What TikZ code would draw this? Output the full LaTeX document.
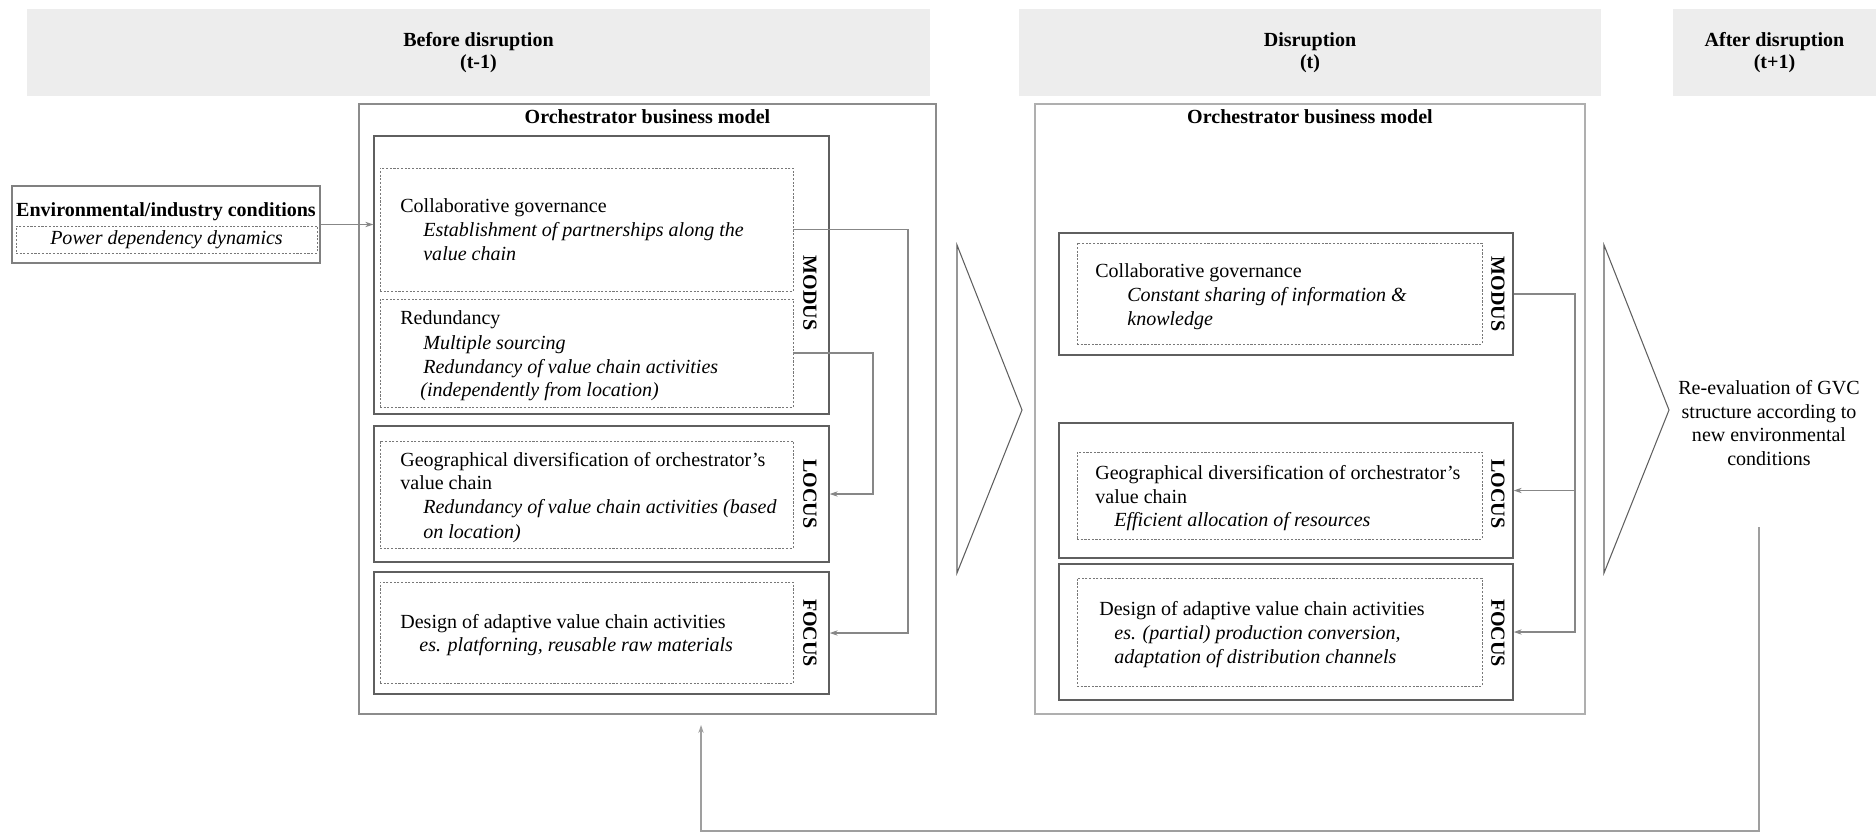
\documentclass[tikz,border=0pt]{standalone}
\usepackage{fontspec}
\setmainfont{Liberation Serif}
\usetikzlibrary{arrows.meta,fit}
\definecolor{bandgray}{RGB}{237,237,237}
\definecolor{framegray}{RGB}{140,140,140}
\definecolor{boxgray}{RGB}{95,95,95}
\definecolor{dotgray}{RGB}{120,120,120}
\definecolor{linkgray}{RGB}{135,135,135}
\newcommand{\gvcsize}{\fontsize{11.4}{13.6}\selectfont}

\begin{document}
\begin{tikzpicture}[x=0.02cm,y=-0.02cm,inner sep=0pt,font=\gvcsize,
  band/.style={fill=bandgray},
  head/.style={align=center,font=\fontsize{11.4}{12.8}\selectfont\bfseries},
  frame/.style={draw=framegray,line width=0.6pt},
  pillar/.style={draw=boxgray,line width=0.8pt},
  dbox/.style={draw=dotgray,line width=0.5pt,dash pattern=on 1.2pt off 0.9pt},
  tag/.style={font=\gvcsize\bfseries,rotate=-90},
  link/.style={draw=linkgray,line width=0.6pt,-{Stealth[length=4.5pt,width=3pt]}},
  txt/.style={anchor=base west}]

\useasboundingbox (0,0) rectangle (1876,833);

\node[band,fit={(27,9) (930,96)}] (before) {};
\node[band,fit={(1019,9) (1601,96)}] (during) {};
\node[band,fit={(1673,9) (1876,96)}] (after) {};
\node[head] (before-txt) at (before.center) {Before disruption\\(t-1)};
\node[head] (during-txt) at (during.center) {Disruption\\(t)};
\node[head] (after-txt) at (after.center) {After disruption\\(t+1)};

\node[frame,fit={(359,104) (936,714)}] (orchL) {};
\node[frame,draw=framegray!70,fit={(1035,104) (1585,714)}] (orchM) {};
\node[below=0.12cm,font=\gvcsize\bfseries] (titleL) at (orchL.north) {Orchestrator business model};
\node[below=0.12cm,font=\gvcsize\bfseries] (titleM) at (orchM.north) {Orchestrator business model};

\node[frame,draw=gray,fit={(12,186) (320,263)}] (env) {};
\node[font=\gvcsize\bfseries] (envtitle) at (166,212) {Environmental/industry conditions};
\node[dbox,fit={(16,226) (317,253)}] (envdyn) {};
\node[font=\gvcsize\itshape] (envdyn-txt) at (envdyn.center) {Power dependency dynamics};

\foreach \n/\ya/\yb/\lab/\ly in {modL/136/414/MODUS/293,locL/426/562/LOCUS/494,fcsL/572/694/FOCUS/633}
{
  \node[pillar,fit={(374,\ya) (829,\yb)}] (\n) {};
  \node[tag] (\n-tag) at (810,\ly) {\lab};
}
\foreach \n/\ya/\yb/\lab/\ly in {modM/233/355/MODUS/294,locM/423/558/LOCUS/494,fcsM/564/700/FOCUS/633}
{
  \node[pillar,fit={(1059,\ya) (1513,\yb)}] (\n) {};
  \node[tag] (\n-tag) at (1498,\ly) {\lab};
}

\foreach \n/\ya/\yb in {cgov/168/291,redu/299/407,geoL/441/548,desL/582/683}
  \node[dbox,fit={(380,\ya) (793,\yb)}] (\n) {};
\foreach \n/\ya/\yb in {cgovM/243/344,geoM/452/539,desM/578/686}
  \node[dbox,fit={(1077,\ya) (1482,\yb)}] (\n) {};

\foreach \x/\y/\t [count=\i] in {
  400/212/Collaborative governance,
  423/236/\itshape Establishment of partnerships along the,
  423/260/\itshape value chain,
  400/324/Redundancy,
  423/349/\itshape Multiple sourcing,
  423/373/\itshape Redundancy of value chain activities,
  420/396/\itshape (independently from location),
  400/466/Geographical diversification of orchestrator’s,
  400/489/value chain,
  423/513/\itshape Redundancy of value chain activities (based,
  423/538/\itshape on location),
  400/628/Design of adaptive value chain activities,
  419/651/{\itshape es. platforning, reusable raw materials}}
  \node[txt] (l\i) at (\x,\y) {\t};

\foreach \x/\y/\t [count=\i] in {
  1095/277/Collaborative governance,
  1127/301/\itshape Constant sharing of information \&,
  1127/325/\itshape knowledge,
  1095/479/Geographical diversification of orchestrator’s,
  1095/503/value chain,
  1114/526/\itshape Efficient allocation of resources,
  1099/615/Design of adaptive value chain activities,
  1114/639/{\itshape es. (partial) production conversion,},
  1114/663/\itshape adaptation of distribution channels}
  \node[txt] (m\i) at (\x,\y) {\t};

\node[align=center] (reval) at (1769,423) {Re-evaluation of GVC\\structure according to\\new environmental\\conditions};

\foreach \x in {957,1604}
  \draw[draw=boxgray,line width=0.6pt] (\x,245) -- ++(65,165) -- ++(-65,163) -- cycle;

\coordinate (trunkA) at (908,0);
\coordinate (trunkB) at (873,0);
\coordinate (trunkC) at (1575,0);
\coordinate (fbtop) at (1759,527);
\coordinate (fbbase) at (701,831);
\coordinate (fbend) at (701,725);

\draw[link] (env.east) -- (env.east -| modL.west);
\draw[link] (cgov.east) -- (cgov.east -| trunkA) |- (fcsL.east);
\draw[link] (redu.east) -- (redu.east -| trunkB) |- (locL.east);
\draw[link] (modM.east) -- (modM.east -| trunkC) |- (fcsM.east);
\draw[link] (modM.east -| trunkC) |- (locM.east);
\draw[link,draw=linkgray!80] (fbtop) |- (fbbase) -- (fbend);

\end{tikzpicture}
\end{document}
